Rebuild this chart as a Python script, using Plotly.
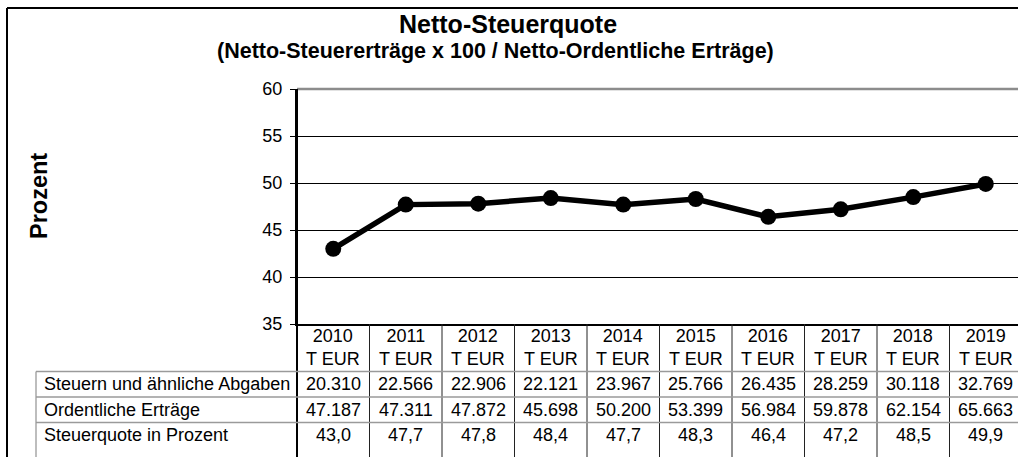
import plotly.graph_objects as go

years = [2010, 2011, 2012, 2013, 2014, 2015, 2016, 2017, 2018, 2019]
steuern = [20310, 22566, 22906, 22121, 23967, 25766, 26435, 28259, 30118, 32769]
ertraege = [47187, 47311, 47872, 45698, 50200, 53399, 56984, 59878, 62154, 65663]
quote = [43.0, 47.7, 47.8, 48.4, 47.7, 48.3, 46.4, 47.2, 48.5, 49.9]
row_labels = ["Steuern und ähnliche Abgaben", "Ordentliche Erträge", "Steuerquote in Prozent"]
unit = "T EUR"

W, H = 1018, 457
L, R, T, B = 297, 0, 89, 133
PW, PH = W - L - R, H - T - B


def px(x):
    return (x - L) / PW


def py(y):
    return (H - B - y) / PH


def de_int(v):
    return f"{v:,}".replace(",", ".")


def de_dec(v):
    return f"{v:.1f}".replace(".", ",")


FONT = "Liberation Sans, Arial, sans-serif"
xs = list(range(len(years)))

fig = go.Figure()
fig.add_trace(go.Scatter(
    x=xs, y=quote, mode="lines+markers",
    line=dict(color="black", width=5.5),
    marker=dict(color="black", size=16),
    hoverinfo="skip", showlegend=False, cliponaxis=False,
))

shapes = []
annotations = []

# outer frame
shapes.append(dict(type="line", xref="paper", yref="paper", x0=px(7), x1=px(7), y0=py(470), y1=py(8),
                   line=dict(color="black", width=2)))
shapes.append(dict(type="line", xref="paper", yref="paper", x0=px(7), x1=px(1030), y0=py(8), y1=py(8),
                   line=dict(color="black", width=2)))
# plot top border (grey)
shapes.append(dict(type="line", xref="paper", yref="paper", x0=0, x1=1.02, y0=1, y1=1,
                   line=dict(color="#8c8c8c", width=2.5)))
# left axis line continues down through table
shapes.append(dict(type="line", xref="paper", yref="paper", x0=0, x1=0, y0=1, y1=py(470),
                   line=dict(color="black", width=2)))
# column dividers
for k in range(len(years) - 1):
    shapes.append(dict(type="line", xref="x", yref="paper", x0=k + 0.5, x1=k + 0.5, y0=0, y1=py(470),
                       line=dict(color="#222222", width=1)))
# row lines
for yy in [371.5, 397, 422.5]:
    shapes.append(dict(type="line", xref="paper", yref="paper", x0=px(36), x1=1.02, y0=py(yy), y1=py(yy),
                       line=dict(color="#9a9a9a", width=1.3)))
# label column left border
shapes.append(dict(type="line", xref="paper", yref="paper", x0=px(36), x1=px(36), y0=py(371.5), y1=py(470),
                   line=dict(color="#9a9a9a", width=1.3)))

TF = dict(family=FONT, size=18, color="black")
for i, yr in enumerate(years):
    annotations.append(dict(x=i, y=py(347), xref="x", yref="paper", text=f"{yr}<br>{unit}",
                            showarrow=False, font=TF, xanchor="center", yanchor="middle"))
row_y = [384, 409.5, 435]
rows = [[de_int(v) for v in steuern], [de_int(v) for v in ertraege], [de_dec(v) for v in quote]]
for r, lab in enumerate(row_labels):
    annotations.append(dict(x=px(42), y=py(row_y[r]), xref="paper", yref="paper", text=lab,
                            showarrow=False, font=TF, xanchor="left", yanchor="middle"))
    for i, val in enumerate(rows[r]):
        annotations.append(dict(x=i, y=py(row_y[r]), xref="x", yref="paper", text=val,
                                showarrow=False, font=TF, xanchor="center", yanchor="middle"))

annotations.append(dict(x=px(508), y=py(24), xref="paper", yref="paper", text="<b>Netto-Steuerquote</b>",
                        showarrow=False, font=dict(family=FONT, size=25, color="black"),
                        xanchor="center", yanchor="middle"))
annotations.append(dict(x=px(495), y=py(51), xref="paper", yref="paper",
                        text="<b>(Netto-Steuererträge x 100 / Netto-Ordentliche Erträge)</b>",
                        showarrow=False, font=dict(family=FONT, size=21.5, color="black"),
                        xanchor="center", yanchor="middle"))
annotations.append(dict(x=px(39), y=py(196), xref="paper", yref="paper", text="<b>Prozent</b>",
                        showarrow=False, textangle=-90, font=dict(family=FONT, size=23.5, color="black"),
                        xanchor="center", yanchor="middle"))

fig.update_layout(
    width=W, height=H,
    margin=dict(l=L, r=R, t=T, b=B, pad=0),
    paper_bgcolor="white", plot_bgcolor="white",
    shapes=shapes, annotations=annotations,
    xaxis=dict(range=[-0.5, -0.5 + PW / 72.5], showgrid=False, zeroline=False,
               showticklabels=False, ticks="", showline=True, linecolor="black", linewidth=2,
               fixedrange=True),
    yaxis=dict(range=[35, 60], dtick=5, tick0=35, showgrid=True, gridcolor="black", gridwidth=1,
               zeroline=False, showline=True, linecolor="black", linewidth=2,
               ticks="outside", ticklen=5, tickcolor="black", tickwidth=1, ticklabelstandoff=4,
               tickfont=dict(family=FONT, size=18, color="black"), fixedrange=True),
)

fig.write_html("out.html", config={"displayModeBar": False},
               post_script="document.body.style.margin='0';document.body.style.overflow='hidden';")
